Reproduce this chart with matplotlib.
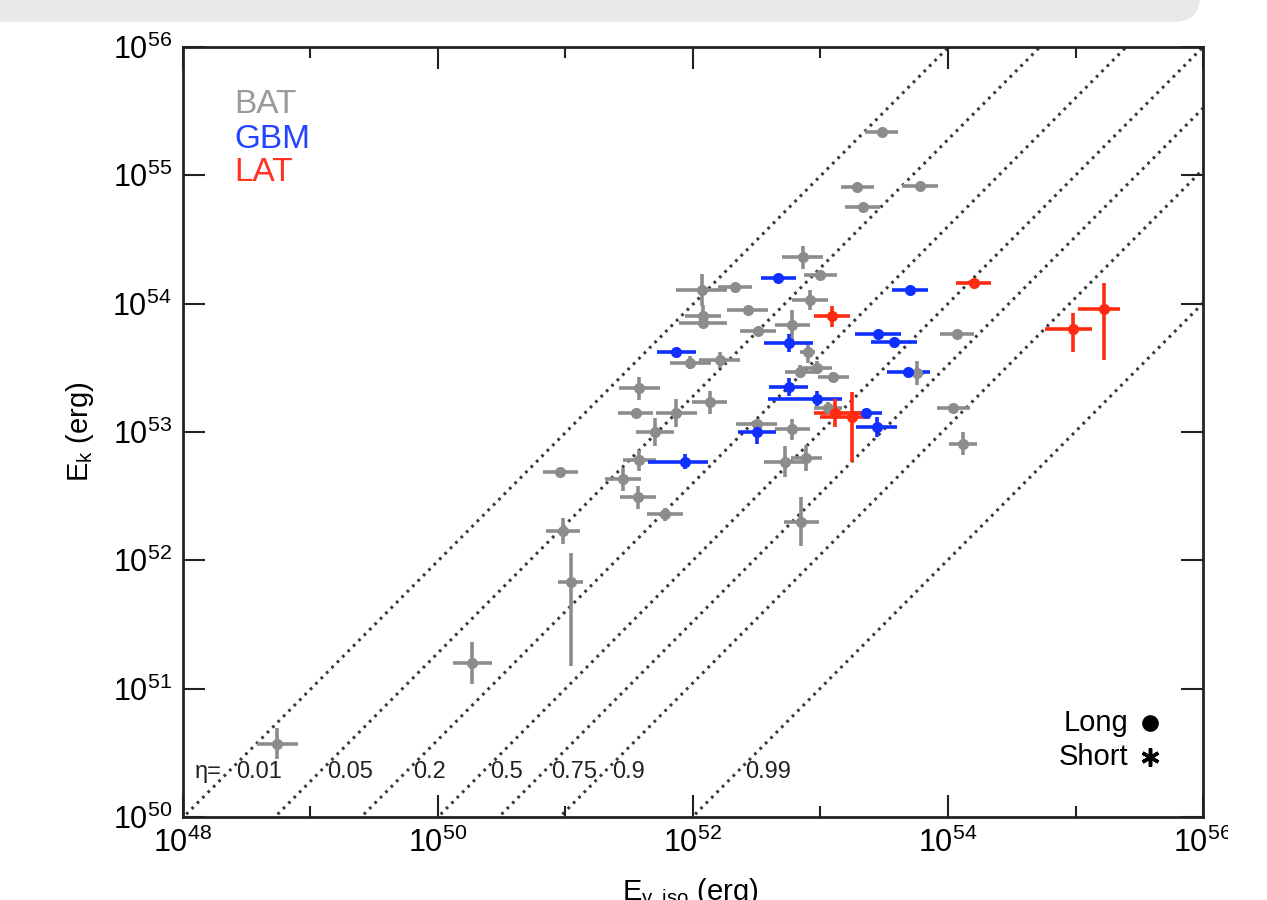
import numpy as np
import matplotlib
matplotlib.use('Agg')
import matplotlib.pyplot as plt
from matplotlib.patches import FancyBboxPatch, Rectangle
from matplotlib.transforms import IdentityTransform

plt.rcParams['font.family'] = ['Liberation Sans', 'DejaVu Sans']
plt.rcParams['mathtext.default'] = 'regular'

##Data (log10 of the energies, errors in dex)##
#BAT
bat_lx = [53.48, 53.29, 53.33, 53.78, 52.86, 53.00, 52.07, 52.33, 52.92, 52.43, 52.08,
          52.08, 52.78, 52.51, 51.98, 52.21, 52.90, 52.84, 52.97, 53.10, 53.76, 51.58,
          52.13, 51.55, 51.87, 51.70, 52.78, 52.50, 53.06, 54.04, 54.12, 54.07, 51.58,
          52.72, 52.89, 50.96, 51.45, 51.57, 51.78, 50.98, 51.04, 52.85, 50.27, 48.74]
bat_ly = [55.34, 54.91, 54.75, 54.92, 54.36, 54.22, 54.11, 54.13, 54.03, 53.95, 53.90,
          53.85, 53.83, 53.79, 53.54, 53.56, 53.62, 53.47, 53.50, 53.43, 53.46, 53.34,
          53.23, 53.15, 53.15, 53.00, 53.02, 53.06, 53.19, 53.19, 52.91, 53.76, 52.78,
          52.77, 52.80, 52.69, 52.63, 52.49, 52.36, 52.23, 51.83, 52.30, 51.20, 50.57]
bat_dx = [0.13, 0.13, 0.14, 0.14, 0.16, 0.13, 0.20, 0.13, 0.14, 0.16, 0.14,
          0.19, 0.14, 0.14, 0.16, 0.16, 0.06, 0.12, 0.12, 0.12, 0.05, 0.16,
          0.14, 0.14, 0.16, 0.15, 0.14, 0.16, 0.11, 0.13, 0.11, 0.13, 0.13,
          0.16, 0.12, 0.14, 0.14, 0.14, 0.14, 0.13, 0.10, 0.14, 0.15, 0.16]
bat_dy_lo = [0.03, 0.03, 0.03, 0.03, 0.09, 0.03, 0.125, 0.03, 0.08, 0.03, 0.09,
             0.03, 0.12, 0.03, 0.05, 0.06, 0.08, 0.05, 0.05, 0.04, 0.09, 0.09,
             0.09, 0.03, 0.11, 0.11, 0.08, 0.03, 0.04, 0.03, 0.09, 0.03, 0.08,
             0.12, 0.10, 0.03, 0.09, 0.09, 0.05, 0.10, 0.65, 0.19, 0.16, 0.12]
bat_dy_hi = [0.03, 0.03, 0.03, 0.03, 0.09, 0.03, 0.125, 0.03, 0.08, 0.03, 0.09,
             0.03, 0.12, 0.03, 0.05, 0.06, 0.08, 0.05, 0.05, 0.04, 0.09, 0.09,
             0.09, 0.03, 0.11, 0.11, 0.08, 0.03, 0.04, 0.03, 0.09, 0.03, 0.08,
             0.12, 0.10, 0.03, 0.09, 0.09, 0.05, 0.10, 0.23, 0.19, 0.16, 0.12]

#GBM
gbm_lx = [52.67, 53.70, 52.75, 53.45, 53.58, 51.87, 53.69, 52.75, 52.97, 53.36, 53.44, 52.50, 51.94]
gbm_ly = [54.20, 54.11, 53.69, 53.76, 53.70, 53.62, 53.47, 53.35, 53.26, 53.15, 53.04, 53.00, 52.77]
gbm_dx_lo = [0.14, 0.14, 0.19, 0.18, 0.18, 0.15, 0.17, 0.15, 0.38, 0.12, 0.16, 0.15, 0.29]
gbm_dx_hi = [0.14, 0.14, 0.19, 0.18, 0.18, 0.15, 0.17, 0.15, 0.20, 0.12, 0.16, 0.15, 0.18]
gbm_dy = [0.03, 0.03, 0.07, 0.03, 0.03, 0.03, 0.03, 0.07, 0.06, 0.03, 0.08, 0.09, 0.06]

#LAT
lat_lx = [53.09, 54.20, 55.22, 54.98, 53.11, 53.25]
lat_ly = [53.90, 54.16, 53.96, 53.80, 53.15, 53.12]
lat_dx_lo = [0.14, 0.14, 0.20, 0.22, 0.16, 0.25]
lat_dx_hi = [0.14, 0.14, 0.13, 0.15, 0.22, 0.14]
lat_dy_lo = [0.08, 0.03, 0.40, 0.18, 0.11, 0.35]
lat_dy_hi = [0.08, 0.03, 0.20, 0.13, 0.11, 0.19]

#efficiency lines
etas = [0.01, 0.05, 0.2, 0.5, 0.75, 0.9, 0.99]
eta_labels = ['0.01', '0.05', '0.2', '0.5', '0.75', '0.9', '0.99']


def to_err(lc, lo, hi):
    lc = np.asarray(lc)
    c = 10.0 ** lc
    return c, [c - 10.0 ** (lc - np.asarray(lo)), 10.0 ** (lc + np.asarray(hi)) - c]


fig = plt.figure(figsize=(12.67, 9), dpi=100)
ax = fig.add_axes([0.1444, 0.0922, 0.8051, 0.8556])

#dotted lines E_k = E_gamma (1 - eta) / eta
xline = np.logspace(47, 57, 50)
for eta in etas:
    ax.plot(xline, xline * (1 - eta) / eta, linestyle=(0, (0.9, 1.6)), color='#3a3a3a',
            lw=2.2, zorder=1)

# eta labels sit just right of each line
ly_lab = 50.35
for eta, lab in zip(etas, eta_labels):
    lx_lab = ly_lab + np.log10(eta / (1 - eta)) + 0.06
    ax.text(10 ** lx_lab, 10 ** ly_lab, lab, fontsize=17, ha='left', va='center',
            color='#222222', zorder=3)
ax.text(10 ** 48.09, 10 ** ly_lab, 'η=', fontsize=17, ha='left', va='center',
        color='#222222', zorder=3)

groups = [(bat_lx, bat_ly, bat_dx, bat_dx, bat_dy_lo, bat_dy_hi, '#8c8c8c'),
          (gbm_lx, gbm_ly, gbm_dx_lo, gbm_dx_hi, gbm_dy, gbm_dy, '#1030ff'),
          (lat_lx, lat_ly, lat_dx_lo, lat_dx_hi, lat_dy_lo, lat_dy_hi, '#ff2a10')]
for lx, ly, dxl, dxh, dyl, dyh, col in groups:
    x, xerr = to_err(lx, dxl, dxh)
    y, yerr = to_err(ly, dyl, dyh)
    ax.errorbar(x, y, xerr=xerr, yerr=yerr, fmt='o', color=col, ms=8, mew=0,
                elinewidth=2.6, capsize=0, zorder=2)

ax.set_xscale('log')
ax.set_yscale('log')
ax.set_xlim(1e48, 1e56)
ax.set_ylim(1e50, 1e56)
ax.set_xticks([1e48, 1e50, 1e52, 1e54, 1e56])
ax.set_xticks([1e49, 1e51, 1e53, 1e55], minor=True)
ax.xaxis.set_minor_formatter(matplotlib.ticker.NullFormatter())
ax.set_yticks([1e50, 1e51, 1e52, 1e53, 1e54, 1e55, 1e56])
ax.yaxis.set_minor_locator(matplotlib.ticker.NullLocator())
ax.set_xticklabels([r'$10^{%d}$' % e for e in [48, 50, 52, 54, 56]])
ax.set_yticklabels([r'$10^{%d}$' % e for e in range(50, 57)])
ax.tick_params(which='both', direction='in', top=True, right=True, labelsize=22,
               width=1.5, color='#222222', pad=8)
ax.tick_params(which='major', length=16)
ax.tick_params(which='minor', length=8)
for sp in ax.spines.values():
    sp.set_linewidth(2)
    sp.set_color('#222222')

ax.set_ylabel(r'E$_{\mathregular{k}}$ (erg)', fontsize=21, labelpad=12)
fig.text(0.545, 0.0, r'E$_{\mathregular{γ,iso}}$ (erg)', fontsize=21, ha='center',
         va='baseline')

#instrument labels
ax.text(0.05, 0.925, 'BAT', color='#9a9a9a', fontsize=24, transform=ax.transAxes, va='center')
ax.text(0.05, 0.88, 'GBM', color='#2244ff', fontsize=24, transform=ax.transAxes, va='center')
ax.text(0.05, 0.837, 'LAT', color='#ff3322', fontsize=24, transform=ax.transAxes, va='center')

#long / short key
ax.text(0.927, 0.122, 'Long', fontsize=21, ha='right', va='center', transform=ax.transAxes)
ax.text(0.927, 0.078, 'Short', fontsize=21, ha='right', va='center', transform=ax.transAxes)
ax.plot([0.948], [0.122], 'o', color='black', ms=11, transform=ax.transAxes, clip_on=False)
ax.plot([0.948], [0.078], marker=(6, 2, 0), color='black', ms=13, mew=2.5,
        transform=ax.transAxes, clip_on=False)

#grey bar along the top edge and blank strip at the right
fig.patches.append(FancyBboxPatch((-60, 878), 1260, 80,
                                  boxstyle='round,pad=0,rounding_size=26',
                                  transform=IdentityTransform(), facecolor='#e9e9e9',
                                  edgecolor='none', figure=fig))
fig.patches.append(Rectangle((1228, 0), 60, 900, transform=IdentityTransform(),
                             facecolor='white', edgecolor='none', figure=fig, zorder=10))

fig.savefig('out.png', dpi=100)
